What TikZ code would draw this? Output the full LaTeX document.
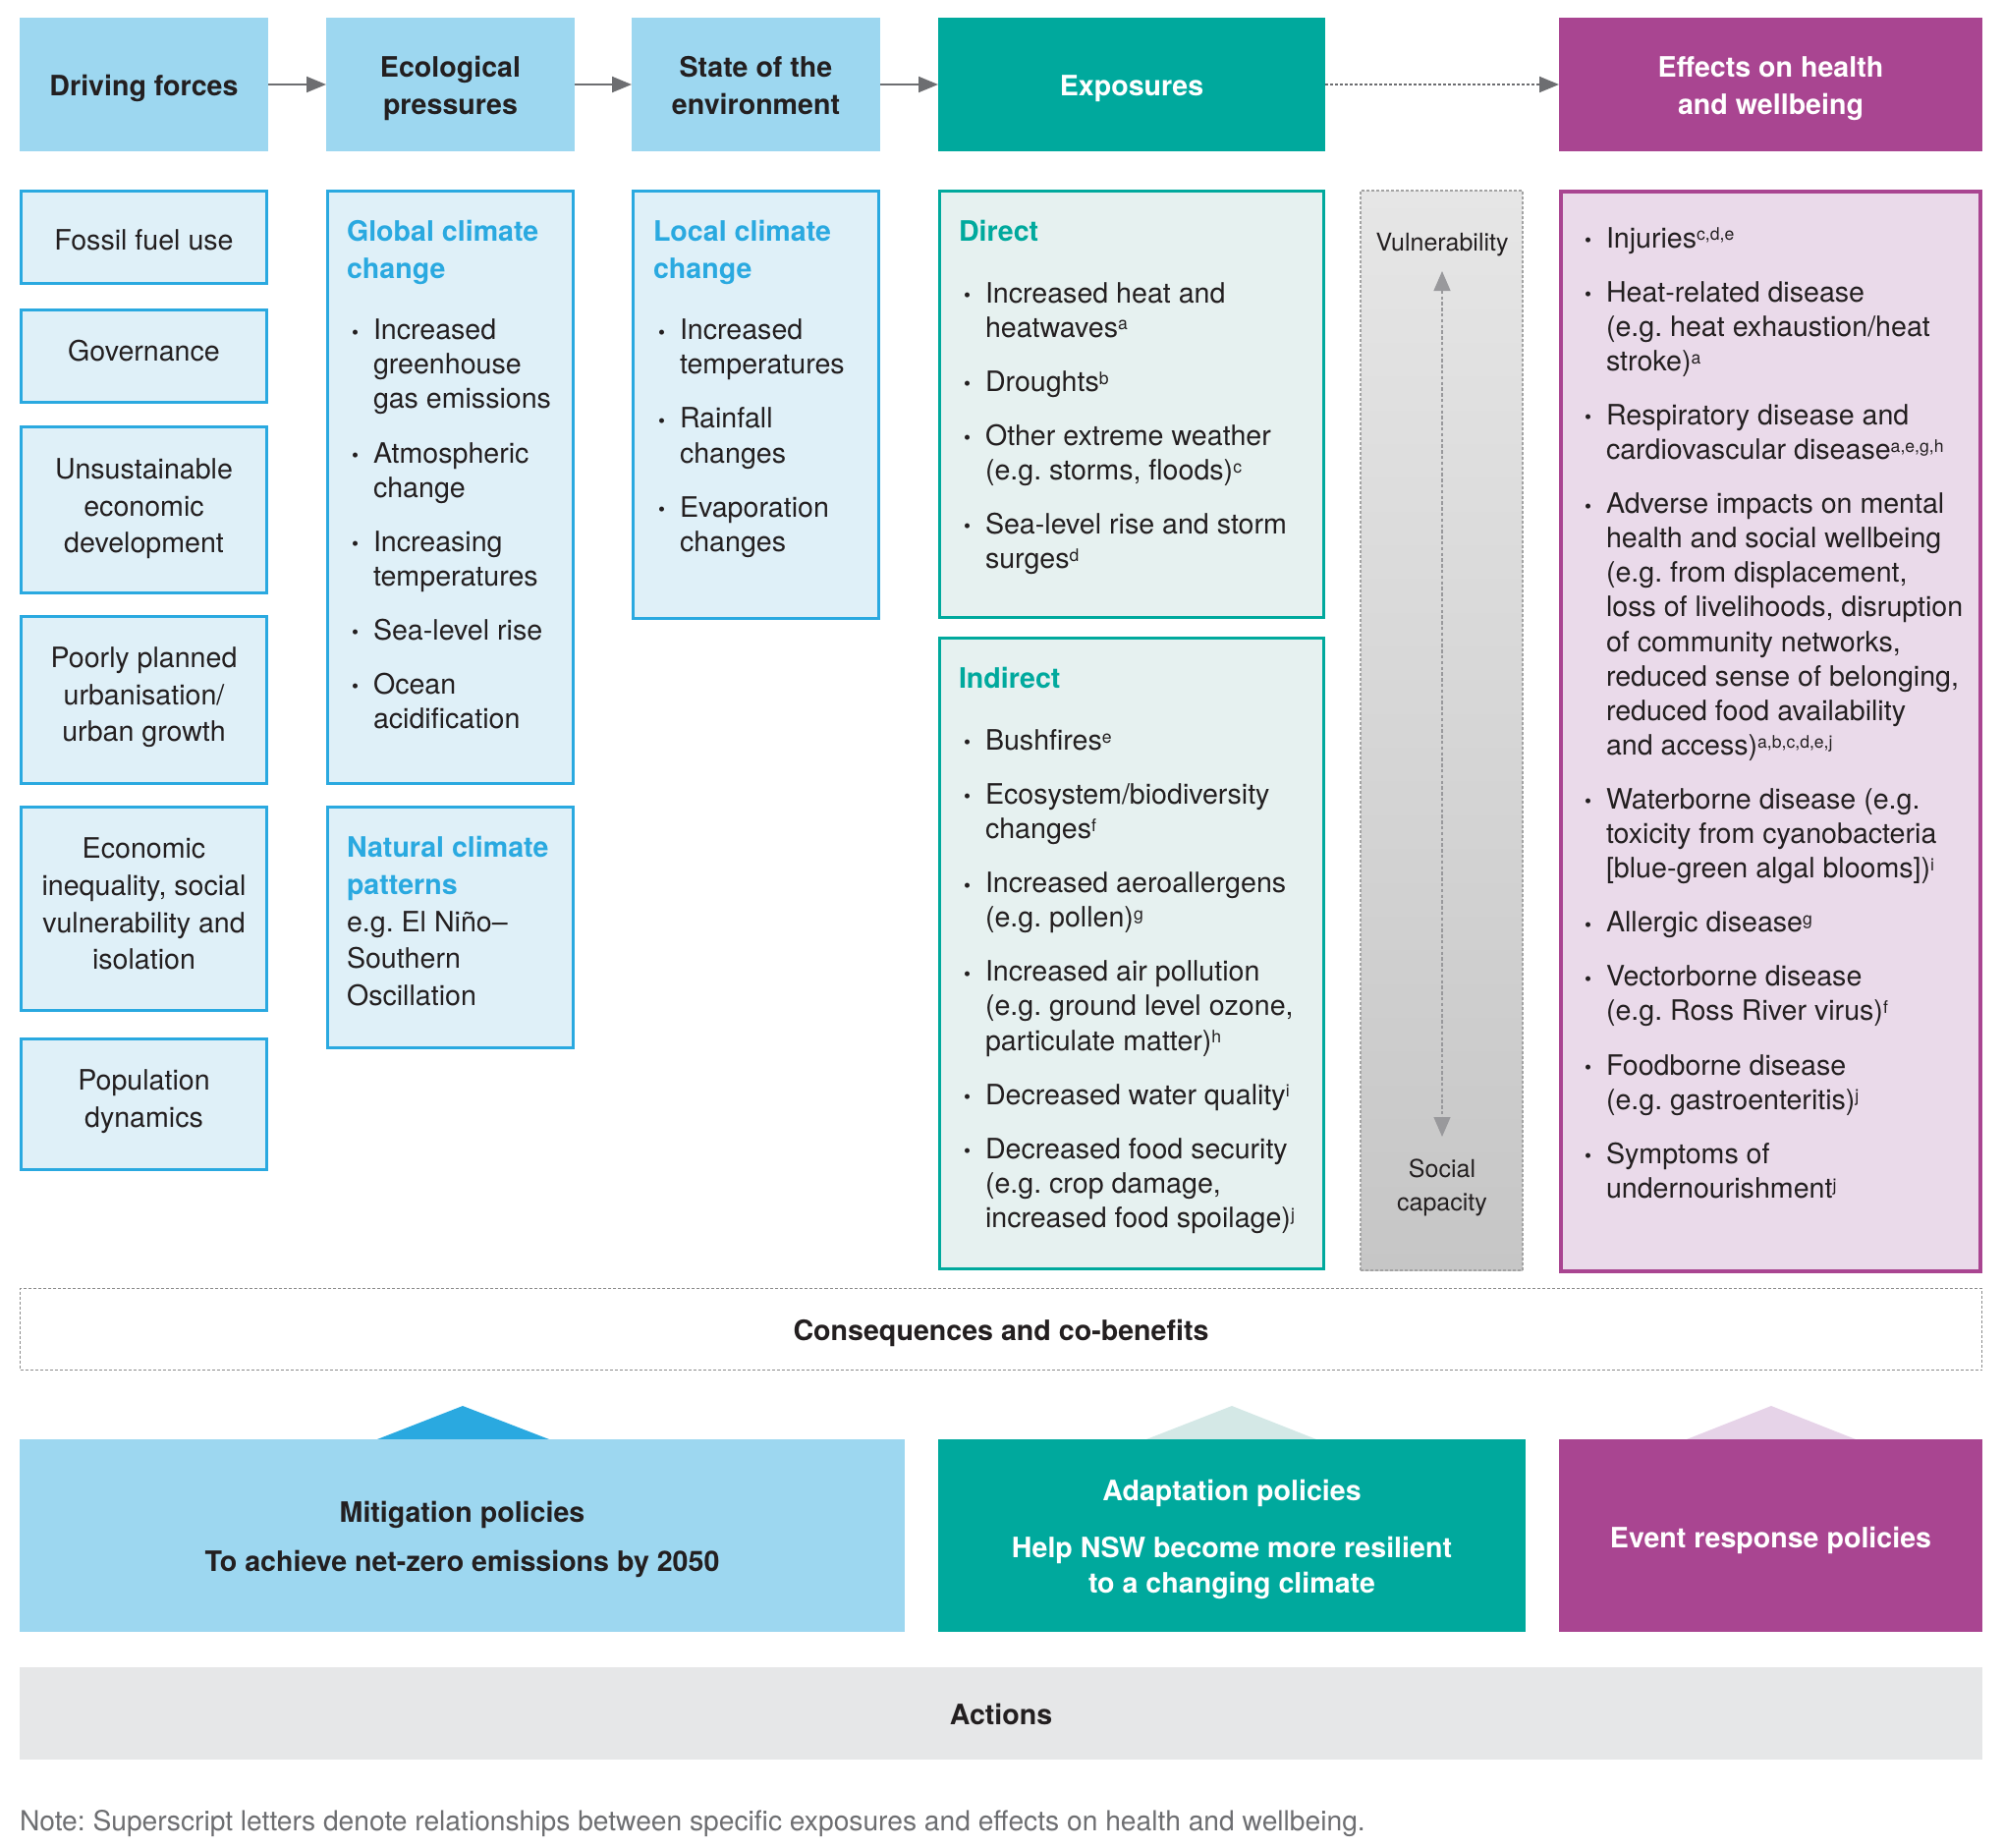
\documentclass[tikz,border=0pt]{standalone}
\usepackage{fontspec}
\setmainfont{TeX Gyre Heros}
\usetikzlibrary{arrows.meta,fit}
\definecolor{hblue}{HTML}{9DD7F0}
\definecolor{cblue}{HTML}{DFF0F8}
\definecolor{bblue}{HTML}{2AA9E0}
\definecolor{myteal}{HTML}{00A99D}
\definecolor{lteal}{HTML}{E6F1F0}
\definecolor{purp}{HTML}{A94591}
\definecolor{lpurp}{HTML}{EADAEA}
\definecolor{txt}{HTML}{231F20}
\definecolor{arrgray}{HTML}{6D6E71}
\definecolor{actgray}{HTML}{E6E7E8}
\definecolor{vtopc}{HTML}{E6E6E6}
\definecolor{vbotc}{HTML}{C6C6C6}
\definecolor{tteal}{HTML}{D4E8E6}
\definecolor{tpurp}{HTML}{E6D3E8}
\definecolor{dashgray}{HTML}{8C8C8C}
\frenchspacing
\newcommand\bodyfont{\fontsize{14.3pt}{17.55pt}\selectfont}
\newcommand\bmark{\raisebox{0.3pt}{\fontsize{10pt}{10pt}\selectfont •}}
\newcommand\itm[2][10pt]{\par\vspace{#1}\hangindent=13.5pt\hangafter=1\noindent\makebox[13.5pt][l]{\hspace{2.5pt}\bmark}#2}
\newcommand\fitm[1]{\hangindent=13.5pt\hangafter=1\noindent\makebox[13.5pt][l]{\hspace{2.5pt}\bmark}#1}
\newcommand\ttl[2]{\noindent{\color{#1}\bfseries\fontsize{14.3pt}{18.85pt}\selectfont #2\par}}
\newcommand\sps[1]{\raisebox{3.6pt}{\fontsize{8.8pt}{8.8pt}\selectfont #1}}
\begin{document}
\begin{tikzpicture}[x=0.5pt,y=-0.5pt,
  every node/.style={inner sep=0pt, outer sep=0pt},
  hbox/.style={rectangle, fill=hblue},
  tbox/.style={rectangle, fill=myteal},
  pbox/.style={rectangle, fill=purp},
  htext/.style={text=txt, align=center, font=\bfseries\fontsize{14.3pt}{18.85pt}\selectfont},
  wtext/.style={htext, text=white},
  cbox/.style={rectangle, draw=bblue, fill=cblue, line width=1.5pt},
  ctext/.style={text=txt, align=center, font=\fontsize{14.3pt}{18.85pt}\selectfont},
  xbox/.style={rectangle, draw=myteal, fill=lteal, line width=1.5pt},
  fbox/.style={rectangle, draw=purp, fill=lpurp, line width=2pt},
  lst/.style={anchor=base west, text=txt, font=\bodyfont},
  harr/.style={draw=arrgray, line width=1pt, -{Triangle[length=10pt,width=8pt]}},
  varr/.style={draw=arrgray!70, line width=0.6pt, dash pattern=on 1.7pt off 1.2pt,
    {Triangle[length=10pt,width=8.5pt]}-{Triangle[length=10pt,width=8.5pt]}},
  vtext/.style={text=txt, align=center, font=\fontsize{12.5pt}{16.9pt}\selectfont},
  ptext/.style={align=center, font=\bfseries\fontsize{14.3pt}{18.2pt}\selectfont}
]
\useasboundingbox (0,0) rectangle (2040,1880);

% header row
\node[hbox, fit={(20,18)(273,154)}] (h1) {};
\node[hbox, fit={(332,18)(585,154)}] (h2) {};
\node[hbox, fit={(643,18)(896,154)}] (h3) {};
\node[tbox, fit={(955,18)(1349,154)}] (h4) {};
\node[pbox, fit={(1587,18)(2018,154)}] (h6) {};
\node[htext, yshift=-2pt] (h1t) at (h1.center) {Driving forces};
\node[htext, yshift=-2pt] (h2t) at (h2.center) {Ecological\\pressures};
\node[htext, yshift=-0.6pt] (h3t) at (h3.center) {State of the\\environment};
\node[wtext, yshift=-2pt] (h4t) at (h4.center) {Exposures};
\node[wtext, yshift=-2pt] (h6t) at (h6.center) {Effects on health\\and wellbeing};
\draw[harr] (h1.east) -- (h2.west);
\draw[harr] (h2.east) -- (h3.west);
\draw[harr] (h3.east) -- (h4.west);
\draw[harr, dash pattern=on 1.5pt off 1pt] (h4.east) -- (h6.west);

% driving forces column
\node[cbox, fit={(21.5,194)(271.5,288.6)}] (d1) {};
\node[cbox, fit={(21.5,315)(271.5,409.6)}] (d2) {};
\node[cbox, fit={(21.5,434.7)(271.5,603.5)}] (d3) {};
\node[cbox, fit={(21.5,627.3)(271.5,797.3)}] (d4) {};
\node[cbox, fit={(21.5,821.1)(271.5,1028.9)}] (d5) {};
\node[cbox, fit={(21.5,1057.9)(271.5,1190.2)}] (d6) {};
\node[ctext, yshift=-1.3pt] (d1t) at (d1.center) {Fossil fuel use};
\node[ctext, yshift=2.6pt] (d2t) at (d2.center) {Governance};
\node[ctext, yshift=0.6pt] (d3t) at (d3.center) {Unsustainable\\economic\\development};
\node[ctext, yshift=1.3pt] (d4t) at (d4.center) {Poorly planned\\urbanisation/\\urban growth};
\node[ctext, yshift=2.5pt] (d5t) at (d5.center) {Economic\\inequality, social\\vulnerability and\\isolation};
\node[ctext, yshift=1.3pt] (d6t) at (d6.center) {Population\\dynamics};

% ecological pressures column
\node[cbox, fit={(333.5,194)(583.5,797.3)}] (e1) {};
\node[lst] (e1t) at (353,245.5) {\begin{minipage}[t]{230pt}\raggedright
\ttl{bblue}{Global climate\newline change}
\itm[13.7pt]{Increased\newline greenhouse\newline gas emissions}
\itm{Atmospheric\newline change}
\itm{Increasing\newline temperatures}
\itm{Sea-level rise}
\itm{Ocean\newline acidification}
\end{minipage}};
\node[cbox, fit={(333.5,821.1)(583.5,1066.6)}] (e2) {};
\node[lst] (e2t) at (353,872.6) {\begin{minipage}[t]{230pt}\raggedright
\noindent{\fontsize{14.3pt}{18.85pt}\selectfont{\color{bblue}\bfseries Natural climate\newline patterns}\newline e.g. El Niño–\newline Southern\newline Oscillation\par}
\end{minipage}};

% state of the environment column
\node[cbox, fit={(644.5,194)(894.5,629.5)}] (s1) {};
\node[lst] (s1t) at (665,245.5) {\begin{minipage}[t]{230pt}\raggedright
\ttl{bblue}{Local climate\newline change}
\itm[13.7pt]{Increased\newline temperatures}
\itm{Rainfall\newline changes}
\itm{Evaporation\newline changes}
\end{minipage}};

% exposures column
\node[xbox, fit={(956.5,194)(1347.5,628.2)}] (x1) {};
\node[lst] (x1t) at (976,245.5) {\begin{minipage}[t]{300pt}\raggedright
\ttl{myteal}{Direct}
\itm[13.7pt]{Increased heat and\newline heatwaves\sps{a}}
\itm{Droughts\sps{b}}
\itm{Other extreme weather\newline (e.g. storms, floods)\sps{c}}
\itm{Sea-level rise and storm\newline surges\sps{d}}
\end{minipage}};
\node[xbox, fit={(956.5,649.4)(1347.5,1291.7)}] (x2) {};
\node[lst] (x2t) at (976,700.8) {\begin{minipage}[t]{300pt}\raggedright
\ttl{myteal}{Indirect}
\itm[13.7pt]{Bushfires\sps{e}}
\itm{Ecosystem/biodiversity\newline changes\sps{f}}
\itm{Increased aeroallergens\newline (e.g. pollen)\sps{g}}
\itm{Increased air pollution\newline (e.g. ground level ozone,\newline particulate matter)\sps{h}}
\itm{Decreased water quality\sps{i}}
\itm{Decreased food security\newline (e.g. crop damage,\newline increased food spoilage)\sps{j}}
\end{minipage}};

% vulnerability bar
\node[rectangle, top color=vtopc, bottom color=vbotc, draw=dashgray!80, line width=0.6pt,
  dash pattern=on 1.5pt off 1pt, fit={(1385,194)(1550,1293)}] (vb) {};
\node[vtext] (vt) at (1468,249) {Vulnerability};
\node[vtext] (sc) at (1468,1209) {Social\\capacity};
\coordinate (vup) at (1468,276);
\coordinate (vdn) at (1468,1157);
\draw[varr] (vup) -- (vdn);

% effects column
\node[fbox, fit={(1589,194.5)(2016,1294)}] (f1) {};
\node[lst] (f1t) at (1608,252) {\begin{minipage}[t]{380pt}\raggedright
\fitm{Injuries\sps{c,d,e}}
\itm{Heat-related disease\newline (e.g. heat exhaustion/heat\newline stroke)\sps{a}}
\itm{Respiratory disease and\newline cardiovascular disease\sps{a,e,g,h}}
\itm{Adverse impacts on mental\newline health and social wellbeing\newline (e.g. from displacement,\newline loss of livelihoods, disruption\newline of community networks,\newline reduced sense of belonging,\newline reduced food availability\newline and access)\sps{a,b,c,d,e,j}}
\itm{Waterborne disease (e.g.\newline toxicity from cyanobacteria\newline [blue-green algal blooms])\sps{i}}
\itm{Allergic disease\sps{g}}
\itm{Vectorborne disease\newline (e.g. Ross River virus)\sps{f}}
\itm{Foodborne disease\newline (e.g. gastroenteritis)\sps{j}}
\itm{Symptoms of\newline undernourishment\sps{j}}
\end{minipage}};

% consequences
\node[rectangle, draw=dashgray, line width=0.6pt, dash pattern=on 1.5pt off 1pt,
  fit={(20.5,1311.5)(2017.5,1394.5)}] (cq) {};
\node[ptext, text=txt, yshift=-2pt] (cqt) at (cq.center) {Consequences and co-benefits};

% triangles
\fill[bblue] (384,1465) -- (471,1431) -- (559,1465) -- cycle;
\fill[tteal] (1167,1465) -- (1254,1431) -- (1340,1465) -- cycle;
\fill[tpurp] (1717,1465) -- (1803,1431) -- (1889,1465) -- cycle;

% policies
\node[hbox, fit={(20,1465)(921,1661)}] (mp) {};
\node[tbox, fit={(955,1465)(1553,1661)}] (ap) {};
\node[pbox, fit={(1587,1465)(2018,1661)}] (ep) {};
\node[rectangle, fill=actgray, fit={(20,1697)(2018,1791)}] (ac) {};
\node[ptext, text=txt, yshift=-2pt] (mpt) at (mp.center)
  {Mitigation policies\\[7.2pt]To achieve net-zero emissions by 2050};
\node[ptext, text=white, yshift=-2pt] (apt) at (ap.center)
  {Adaptation policies\\[11pt]Help NSW become more resilient\\to a changing climate};
\node[ptext, text=white, yshift=-2.6pt] (ept) at (ep.center) {Event response policies};
\node[ptext, text=txt, yshift=-0.6pt] (act) at (ac.center) {Actions};

\node[anchor=base west, text=arrgray, font=\fontsize{14.1pt}{17pt}\selectfont] (note) at (20,1863)
  {Note: Superscript letters denote relationships between specific exposures and effects on health and wellbeing.};
\end{tikzpicture}
\end{document}
